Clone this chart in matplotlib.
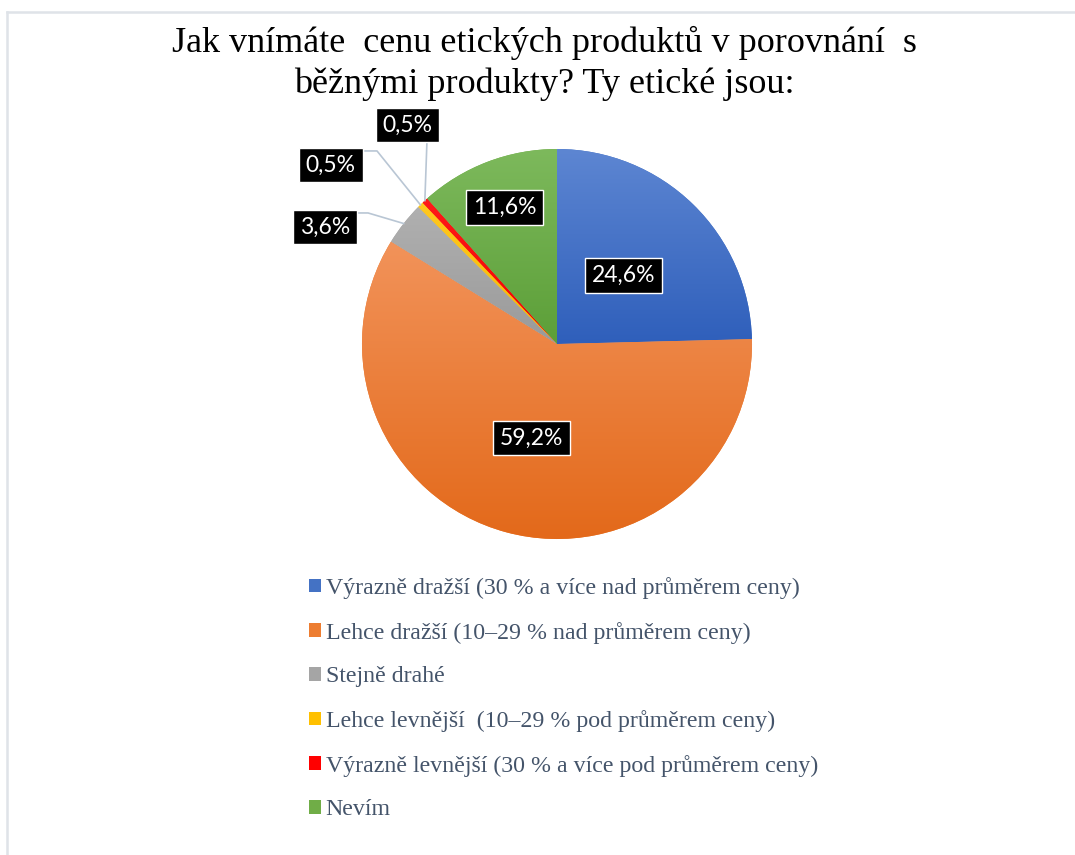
import numpy as np
import matplotlib
matplotlib.use("Agg")
import matplotlib.pyplot as plt
from matplotlib.colors import LinearSegmentedColormap
from matplotlib.lines import Line2D
from matplotlib.patches import Patch

# --- data -------------------------------------------------------------
title = "Jak vnímáte  cenu etických produktů v porovnání  s\nběžnými produkty? Ty etické jsou:"
categories = [
    "Výrazně dražší (30 % a více nad průměrem ceny)",
    "Lehce dražší (10–29 % nad průměrem ceny)",
    "Stejně drahé",
    "Lehce levnější  (10–29 % pod průměrem ceny)",
    "Výrazně levnější (30 % a více pod průměrem ceny)",
    "Nevím",
]
shares = [24.6, 59.2, 3.6, 0.5, 0.5, 11.6]

# --- style ------------------------------------------------------------
base_colors = ["#4472c4", "#ed7d31", "#a5a5a5", "#ffc000", "#ff0000", "#70ad47"]
grad_top = ["#5d86d2", "#f2935a", "#b0b0b0", "#ffc820", "#ff1a1a", "#7db95c"]
grad_bot = ["#2f5fbb", "#e3691a", "#9a9a9a", "#f5b800", "#ee0000", "#5c9f38"]
text_grey = "#44546a"
leader_col = "#b9c6d4"
serif = "Liberation Serif"
label_font = "Lato"

W, H = 1075, 855
fig = plt.figure(figsize=(W / 100, H / 100), dpi=100)

# light chart frame (top and left edges visible)
fig.add_artist(Line2D([7 / W, 7 / W], [0, 1 - 12 / H], color="#dfe3e8", lw=1.8))
fig.add_artist(Line2D([7 / W, 1], [1 - 12 / H, 1 - 12 / H], color="#dfe3e8", lw=1.8))

fig.text(0.506, 1 - 26 / H, title, ha="center", va="top", fontsize=26,
         family=serif, color="black", linespacing=1.3)

# pie axes: centre (557, 344) px, radius 195 px
cx, cy, r = 557, 344, 195
ax = fig.add_axes([(cx - r) / W, (H - cy - r) / H, 2 * r / W, 2 * r / H])
wedges, _ = ax.pie(shares, colors=base_colors, startangle=90, counterclock=False,
                   radius=1, wedgeprops=dict(linewidth=0))

# vertical gradient inside every slice
grad = np.linspace(0, 1, 256).reshape(-1, 1)
for w, top, bot in zip(wedges, grad_top, grad_bot):
    bb = w.get_path().get_extents()
    cmap = LinearSegmentedColormap.from_list("g", [bot, top])
    im = ax.imshow(grad, extent=[bb.x0, bb.x1, bb.y0, bb.y1], origin="lower",
                   cmap=cmap, aspect="auto", zorder=w.get_zorder() + 0.1)
    im.set_clip_path(w)

ax.set_xlim(-1, 1)
ax.set_ylim(-1, 1)
ax.set_aspect("auto")
ax.axis("off")

# mid angle of every slice
cum = np.concatenate([[0], np.cumsum(shares)])
mid = np.deg2rad(90 - (cum[:-1] + cum[1:]) / 2 * 3.6)

labels = [f"{v:.1f}%".replace(".", ",") for v in shares]
box = dict(boxstyle="square,pad=0.3", fc="black", ec="white", lw=1)

# inside labels: distance along the mid angle
inside = {0: 0.49, 1: 0.50, 5: 0.75}
for i, d in inside.items():
    ax.text(d * np.cos(mid[i]), d * np.sin(mid[i]), labels[i], ha="center", va="center",
            color="white", fontsize=16.5, family=label_font, bbox=box, zorder=5)

# outside labels with leader lines
outside = {2: (-1.19, 0.60), 3: (-1.16, 0.918), 4: (-0.767, 1.123)}
elbows = {2: [(-1.026, 0.672), (-0.969, 0.672)],
          3: [(-0.985, 0.99), (-0.923, 0.99)],
          4: [(-0.667, 1.036)]}
for i, (x, y) in outside.items():
    pts = elbows[i] + [(np.cos(mid[i]), np.sin(mid[i]))]
    xs, ys = zip(*pts)
    ax.plot(xs, ys, color=leader_col, lw=1.2, clip_on=False, zorder=4)
    ax.text(x, y, labels[i], ha="center", va="center", color="white", fontsize=16.5,
            family=label_font, bbox=box, zorder=5, clip_on=False)

handles = [Patch(facecolor=c, label=n) for c, n in zip(base_colors, categories)]
fig.legend(handles=handles, loc="upper left", bbox_to_anchor=(309 / W, 1 - 577 / H),
           frameon=False, prop={"family": serif, "size": 17.2}, labelcolor=text_grey,
           handlelength=0.5, handleheight=0.5, handletextpad=0.2,
           labelspacing=0.95, borderaxespad=0, borderpad=0)

fig.savefig("out.png", dpi=100)
